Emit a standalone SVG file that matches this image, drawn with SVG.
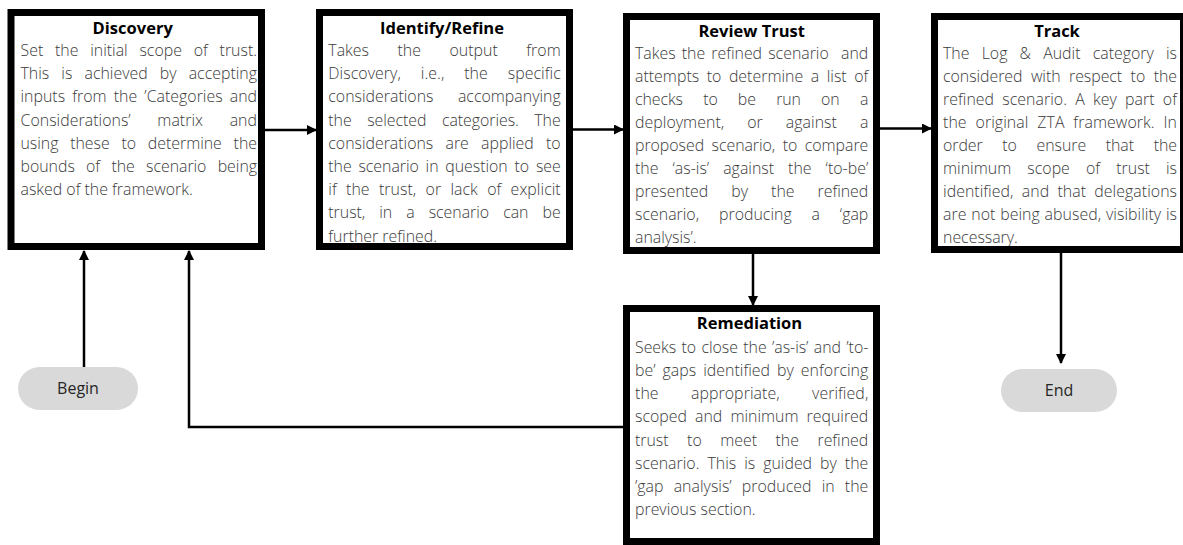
<svg xmlns="http://www.w3.org/2000/svg" width="1183" height="545" viewBox="0 0 1183 545">
  <defs>
    <marker id="arrow" markerUnits="userSpaceOnUse" markerWidth="10" markerHeight="10" refX="9" refY="5" orient="auto">
      <path d="M0,0 L10,5 L0,10 z" fill="#000"/>
    </marker>
    <style>
      .bg{fill:#fff}
      .frame{fill:none;stroke:#000;stroke-width:7}
      .title{font-family:"Open Sans","DejaVu Sans",sans-serif;font-size:16.5px;font-weight:700;fill:#000;text-anchor:middle}
      .body{font-family:"Open Sans","DejaVu Sans",sans-serif;font-size:15.9px;font-weight:300;fill:#3a3a3a}
      .pill{fill:#d9d9d9}
      .pilltext{font-family:"Open Sans","DejaVu Sans",sans-serif;font-size:16px;fill:#262626;text-anchor:middle}
      .edge{fill:none;stroke:#000;stroke-width:2.5;marker-end:url(#arrow)}
    </style>
  </defs>

  <rect width="1183" height="545" fill="#fff"/>

  <!-- Step 1 -->
  <g id="discovery">
    <rect class="bg" x="11" y="12.5" width="250.5" height="234"/>
    <text class="title" x="132.7" y="34">Discovery</text>
    <text class="body" x="20.5" y="56" word-spacing="7.61" textLength="236.5" lengthAdjust="spacing">Set the initial scope of trust.</text>
    <text class="body" x="20.5" y="79.2" word-spacing="8" textLength="236.5" lengthAdjust="spacing">This is achieved by accepting</text>
    <text class="body" x="20.5" y="102.4" word-spacing="2.97" textLength="236.5" lengthAdjust="spacing">inputs from the ’Categories and</text>
    <text class="body" x="20.5" y="125.6" word-spacing="22.48" textLength="236.5" lengthAdjust="spacing">Considerations’ matrix and</text>
    <text class="body" x="20.5" y="148.8" word-spacing="7.68" textLength="236.5" lengthAdjust="spacing">using these to determine the</text>
    <text class="body" x="20.5" y="172" word-spacing="7.18" textLength="236.5" lengthAdjust="spacing">bounds of the scenario being</text>
    <text class="body" x="20.5" y="195.2">asked of the framework.</text>
    <rect class="frame" x="11" y="12.5" width="250.5" height="234"/>
  </g>

  <!-- Step 2 -->
  <g id="identify-refine">
    <rect class="bg" x="319.5" y="12.5" width="250" height="234"/>
    <text class="title" x="442" y="34">Identify/Refine</text>
    <text class="body" x="328.3" y="56" word-spacing="24.36" textLength="232.4" lengthAdjust="spacing">Takes the output from</text>
    <text class="body" x="328.3" y="79.2" word-spacing="15.66" textLength="232.4" lengthAdjust="spacing">Discovery, i.e., the specific</text>
    <text class="body" x="328.3" y="102.4" word-spacing="20.28" textLength="232.4" lengthAdjust="spacing">considerations accompanying</text>
    <text class="body" x="328.3" y="125.6" word-spacing="11.39" textLength="232.4" lengthAdjust="spacing">the selected categories. The</text>
    <text class="body" x="328.3" y="148.8" word-spacing="8.18" textLength="232.4" lengthAdjust="spacing">considerations are applied to</text>
    <text class="body" x="328.3" y="172" word-spacing="2.76" textLength="232.4" lengthAdjust="spacing">the scenario in question to see</text>
    <text class="body" x="328.3" y="195.2" word-spacing="5.11" textLength="232.4" lengthAdjust="spacing">if the trust, or lack of explicit</text>
    <text class="body" x="328.3" y="218.4" word-spacing="9.92" textLength="232.4" lengthAdjust="spacing">trust, in a scenario can be</text>
    <text class="body" x="328.3" y="241.6">further refined.</text>
    <rect class="frame" x="319.5" y="12.5" width="250" height="234"/>
  </g>

  <!-- Step 3 -->
  <g id="review-trust">
    <rect class="bg" x="626.5" y="16.5" width="250" height="234"/>
    <text class="title" x="751.7" y="36.5">Review Trust</text>
    <text class="body" x="635" y="58.5" word-spacing="2.04" textLength="233.3" lengthAdjust="spacing" xml:space="preserve">Takes the refined scenario  and</text>
    <text class="body" x="635" y="81.6" word-spacing="3.39" textLength="233.3" lengthAdjust="spacing">attempts to determine a list of</text>
    <text class="body" x="635" y="104.7" word-spacing="16.16" textLength="233.3" lengthAdjust="spacing">checks to be run on a</text>
    <text class="body" x="635" y="127.8" word-spacing="18.81" textLength="233.3" lengthAdjust="spacing">deployment, or against a</text>
    <text class="body" x="635" y="150.9" word-spacing="3.41" textLength="233.3" lengthAdjust="spacing">proposed scenario, to compare</text>
    <text class="body" x="635" y="174" word-spacing="9.79" textLength="233.3" lengthAdjust="spacing">the ‘as-is’ against the ‘to-be’</text>
    <text class="body" x="635" y="197.1" word-spacing="18.96" textLength="233.3" lengthAdjust="spacing">presented by the refined</text>
    <text class="body" x="635" y="220.2" word-spacing="15.69" textLength="233.3" lengthAdjust="spacing">scenario, producing a ‘gap</text>
    <text class="body" x="635" y="243.3">analysis’.</text>
    <rect class="frame" x="626.5" y="16.5" width="250" height="234"/>
  </g>

  <!-- Step 4 -->
  <g id="track">
    <rect class="bg" x="934.5" y="16.5" width="249" height="233"/>
    <text class="title" x="1057" y="36.5">Track</text>
    <text class="body" x="943" y="58.5" word-spacing="8.04" textLength="234" lengthAdjust="spacing">The Log &amp; Audit category is</text>
    <text class="body" x="943" y="81.6" word-spacing="4.37" textLength="234" lengthAdjust="spacing">considered with respect to the</text>
    <text class="body" x="943" y="104.7" word-spacing="4.09" textLength="234" lengthAdjust="spacing">refined scenario. A key part of</text>
    <text class="body" x="943" y="127.8" word-spacing="4.63" textLength="234" lengthAdjust="spacing">the original ZTA framework. In</text>
    <text class="body" x="943" y="150.9" word-spacing="15.55" textLength="234" lengthAdjust="spacing">order to ensure that the</text>
    <text class="body" x="943" y="174" word-spacing="11.94" textLength="234" lengthAdjust="spacing">minimum scope of trust is</text>
    <text class="body" x="943" y="197.1" word-spacing="4.07" textLength="234" lengthAdjust="spacing">identified, and that delegations</text>
    <text class="body" x="943" y="220.2" word-spacing="0.56" textLength="234" lengthAdjust="spacing">are not being abused, visibility is</text>
    <text class="body" x="943" y="243.3">necessary.</text>
    <rect class="frame" x="934.5" y="16.5" width="249" height="233"/>
  </g>

  <!-- Step 5 -->
  <g id="remediation">
    <rect class="bg" x="626.5" y="308.5" width="250" height="233"/>
    <text class="title" x="749.5" y="329">Remediation</text>
    <text class="body" x="635" y="353" word-spacing="1.25" textLength="233.3" lengthAdjust="spacing">Seeks to close the ’as-is’ and ’to-</text>
    <text class="body" x="635" y="376.15" word-spacing="2.77" textLength="233.3" lengthAdjust="spacing">be’ gaps identified by enforcing</text>
    <text class="body" x="635" y="399.3" word-spacing="28.06" textLength="233.3" lengthAdjust="spacing">the appropriate, verified,</text>
    <text class="body" x="635" y="422.45" word-spacing="4.02" textLength="233.3" lengthAdjust="spacing">scoped and minimum required</text>
    <text class="body" x="635" y="445.6" word-spacing="14.4" textLength="233.3" lengthAdjust="spacing">trust to meet the refined</text>
    <text class="body" x="635" y="468.75" word-spacing="3.86" textLength="233.3" lengthAdjust="spacing">scenario. This is guided by the</text>
    <text class="body" x="635" y="491.9" word-spacing="5.96" textLength="233.3" lengthAdjust="spacing">’gap analysis’ produced in the</text>
    <text class="body" x="635" y="515.05">previous section.</text>
    <rect class="frame" x="626.5" y="308.5" width="250" height="233"/>
  </g>

  <!-- Terminals -->
  <g id="begin">
    <rect class="pill" x="18" y="367" width="120" height="43" rx="21.5"/>
    <text class="pilltext" x="78" y="394">Begin</text>
  </g>
  <g id="end">
    <rect class="pill" x="1001" y="369" width="116" height="43" rx="21.5"/>
    <text class="pilltext" x="1059" y="396">End</text>
  </g>

  <!-- Flow connectors -->
  <g id="connectors">
    <path class="edge" d="M265,130 H316"/>
    <path class="edge" d="M573,129.5 H623"/>
    <path class="edge" d="M880,128.5 H931"/>
    <path class="edge" d="M753,254 V305"/>
    <path class="edge" d="M1061,253 V363"/>
    <path class="edge" d="M84,367 V251"/>
    <path class="edge" d="M623,427 H189 V251"/>
  </g>
</svg>
